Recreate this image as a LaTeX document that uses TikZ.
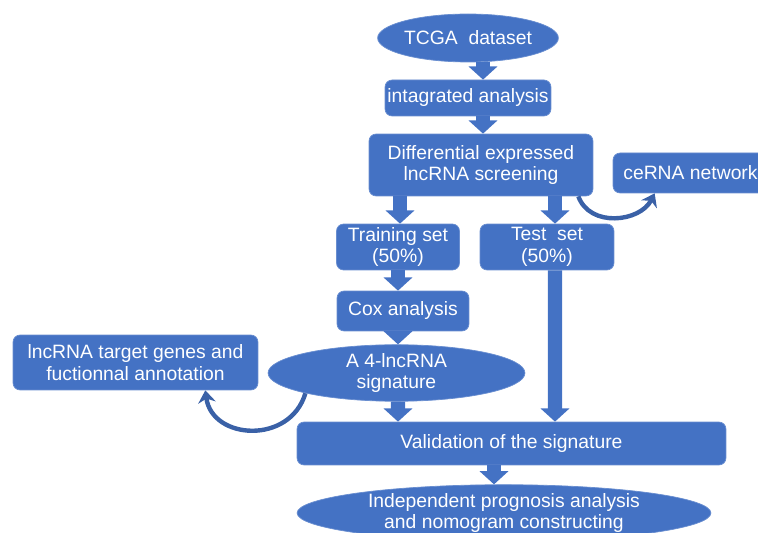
\documentclass[tikz,border=0pt]{standalone}
\usepackage{fontspec}
\setmainfont{Liberation Sans}
\usetikzlibrary{shapes.geometric, arrows.meta, calc}
\definecolor{flowblue}{RGB}{68,114,196}
\tikzset{
  box/.style={rectangle, rounded corners=4pt, fill=flowblue, draw=flowblue!80!white, text=white, align=center, inner sep=0pt, font=\fontsize{11}{12.5}\selectfont},
  oval/.style={box, ellipse},
  blk/.style={flowblue, line width=8pt, -{Triangle[length=7.5pt,width=16pt]}},
  curv/.style={flowblue!85!black, line width=2.5pt, -{Stealth[length=7pt,width=10pt]}}
}
\begin{document}
\begin{tikzpicture}[x=0.02cm, y=-0.02cm]
\useasboundingbox (0,0) rectangle (758,533);
\clip (0,0) rectangle (758,533);
\node[oval, minimum width=3.48cm, minimum height=0.96cm] (tcga) at (468,38) {TCGA\ \ dataset};
\node[box, minimum width=3.32cm, minimum height=0.72cm] (intg) at (468,98) {intagrated analysis};
\node[box, minimum width=4.48cm, minimum height=1.24cm] (diff) at (481,165) {Differential expressed\\lncRNA screening};
\node[box, minimum width=3.1cm, minimum height=0.8cm] (cerna) at (690.5,173) {ceRNA network};
\node[box, minimum width=2.46cm, minimum height=0.92cm] (train) at (398,247) {Training set\\(50\%)};
\node[box, minimum width=2.68cm, minimum height=0.92cm] (test) at (547,247) {Test\ \ set\\(50\%)};
\node[box, minimum width=2.64cm, minimum height=0.8cm] (cox) at (403,311) {Cox analysis};
\node[oval, minimum width=5.14cm, minimum height=1.0cm] (sig) at (396.5,373) {A 4-lncRNA\\signature};
\node[box, minimum width=4.9cm, minimum height=1.1cm] (tgt) at (135.5,362.5) {lncRNA target genes and\\fuctionnal annotation};
\node[box, minimum width=8.58cm, minimum height=0.86cm] (valid) at (511.5,443.5) {Validation of the signature};
\node[oval, minimum width=8.28cm, minimum height=1.12cm] (indep) at (504,513) {Independent prognosis analysis\\and nomogram constructing};
\draw[blk] ($(tcga.south)+(15,0)$) -- ($(intg.north)+(15,0)$);
\draw[blk] ($(intg.south)+(15,0)$) -- ($(diff.north)+(2,0)$);
\draw[blk] ($(diff.south)+(-81,0)$) -- ($(train.north)+(2,0)$);
\draw[blk] ($(diff.south)+(74,0)$) -- ($(test.north)+(8,0)$);
\draw[blk] (train.south) -- ($(cox.north)+(-5,0)$);
\draw[blk] ($(cox.south)+(-5,0)$) -- ($(sig.north)+(1.5,0)$);
\draw[blk] ($(sig.south)+(1.5,0)$) -- ($(valid.north)+(-113.5,0)$);
\draw[blk] ($(test.south)+(8,0)$) -- ($(valid.north)+(43.5,0)$);
\draw[blk] ($(valid.south)+(-17.5,0)$) -- ($(indep.north)+(-10,0)$);
\draw[curv] ($(diff.south east)+(-15,0)$) .. controls (590,228) and (640,222) .. ($(cerna.south west)+(42,0)$);
\draw[curv] (sig.south west) .. controls (290,445) and (212,440) .. ($(tgt.south east)+(-53,0)$);
\end{tikzpicture}
\end{document}
